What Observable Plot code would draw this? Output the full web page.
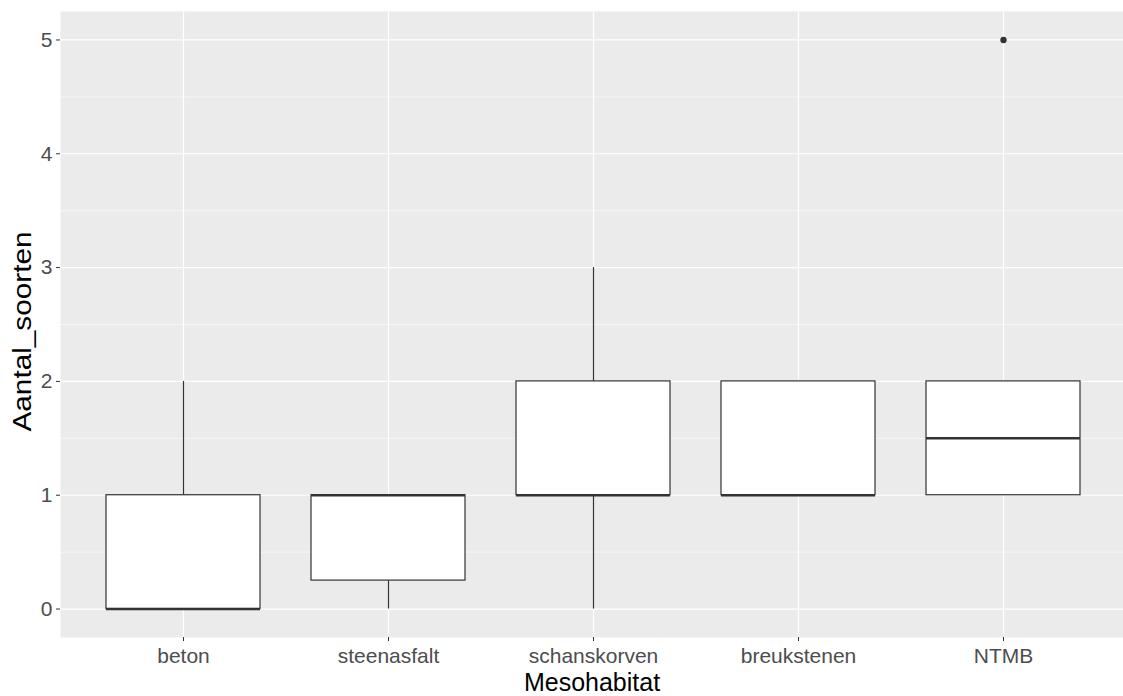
<!DOCTYPE html>
<html>
<head>
<meta charset="utf-8">
<script src="https://cdn.jsdelivr.net/npm/d3@7"></script>
<script src="https://cdn.jsdelivr.net/npm/@observablehq/plot@0.6"></script>
<style>
  html, body { margin: 0; padding: 0; background: #fff; overflow: hidden; }
  #chart svg { display: block; font-family: "Liberation Sans", Arial, sans-serif; }
</style>
</head>
<body>
<div id="chart"></div>
<script>
const categories = ["beton", "steenasfalt", "schanskorven", "breukstenen", "NTMB"];
const whiskerLow  = [0, 0,    0, 1, 1];
const q1          = [0, 0.25, 1, 1, 1];
const median      = [0, 1,    1, 1, 1.5];
const q3          = [1, 1,    2, 2, 2];
const whiskerHigh = [2, 1,    3, 2, 2];
const outlierCats = ["NTMB"];
const outlierVals = [5];
const yTicks = [0, 1, 2, 3, 4, 5];
const yMinor = [0.5, 1.5, 2.5, 3.5, 4.5];
const xTitle = "Mesohabitat";
const yTitle = "Aantal_soorten";

const boxes = categories.map((c, i) => ({
  cat: c, lo: whiskerLow[i], q1: q1[i], med: median[i], q3: q3[i], hi: whiskerHigh[i]
}));
const outliers = outlierCats.map((c, i) => ({cat: c, v: outlierVals[i]}));

const ink = "#333333";
const chart = Plot.plot({
  width: 1123,
  height: 696,
  marginLeft: 60,
  marginRight: 0,
  marginTop: 11,
  marginBottom: 59,
  style: {fontFamily: "'Liberation Sans', Arial, sans-serif", background: "white"},
  x: {domain: categories, range: [60, 1126], paddingInner: 0.25, paddingOuter: 0.225},
  y: {domain: [-0.25, 5.25]},
  marks: [
    Plot.frame({fill: "#EBEBEB", stroke: null}),
    Plot.gridY(yMinor, {stroke: "white", strokeOpacity: 1, strokeWidth: 0.6}),
    Plot.gridY(yTicks, {stroke: "white", strokeOpacity: 1, strokeWidth: 1.2}),
    Plot.gridX(categories, {stroke: "white", strokeOpacity: 1, strokeWidth: 1.2}),
    Plot.ruleX(boxes, {x: "cat", y1: "q3", y2: "hi", stroke: ink, strokeWidth: 1.2}),
    Plot.ruleX(boxes, {x: "cat", y1: "lo", y2: "q1", stroke: ink, strokeWidth: 1.2}),
    Plot.barY(boxes, {x: "cat", y1: "q1", y2: "q3", fill: "white", stroke: ink, strokeWidth: 1.2}),
    Plot.tickY(boxes, {x: "cat", y: "med", stroke: ink, strokeWidth: 2.4}),
    Plot.dot(outliers, {x: "cat", y: "v", r: 3.2, fill: ink, stroke: null}),
    Plot.axisY(yTicks, {tickSize: 4, tickPadding: 4, fontSize: 21, fill: "#4D4D4D", stroke: ink, label: null, tickFormat: "d"}),
    Plot.axisX({tickSize: 4, tickPadding: 7, fontSize: 21, fill: "#4D4D4D", stroke: ink, label: null}),
    Plot.text([xTitle], {frameAnchor: "bottom", dy: 45, fontSize: 25, fill: "black", textAnchor: "middle", lineAnchor: "middle"}),
    Plot.text([yTitle], {frameAnchor: "left", dx: -38, dy: 7, rotate: -90, fontSize: 25, fill: "black", textAnchor: "middle", lineAnchor: "middle"})
  ]
});
// stretch the y title along its length to match the reference proportions
d3.select(chart).selectAll("text").filter(function() { return this.textContent === yTitle; })
  .attr("textLength", 200).attr("lengthAdjust", "spacingAndGlyphs");
document.getElementById("chart").appendChild(chart);
</script>
</body>
</html>
